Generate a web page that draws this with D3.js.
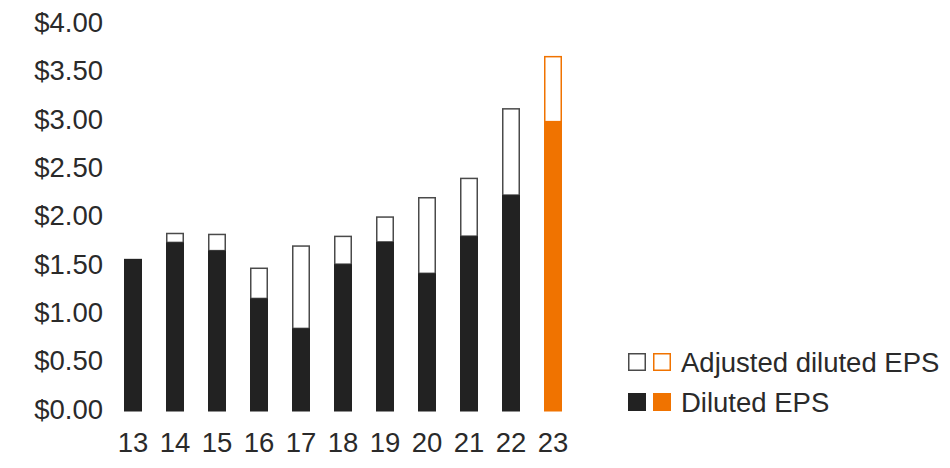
<!DOCTYPE html>
<html>
<head>
<meta charset="utf-8">
<script src="https://cdn.jsdelivr.net/npm/d3@7"></script>
<style>
  html, body { margin: 0; padding: 0; background: #fff; }
  svg text { font-family: "Liberation Sans", Arial, sans-serif; fill: #2a2a2a; }
</style>
</head>
<body>
<svg id="chart" width="950" height="468"></svg>
<script>
const years = ["13","14","15","16","17","18","19","20","21","22","23"];
const dilutedEPS = [1.58, 1.75, 1.665, 1.17, 0.86, 1.525, 1.755, 1.43, 1.815, 2.24, 3.00];
const adjustedEPS = [1.58, 1.85, 1.84, 1.49, 1.72, 1.82, 2.02, 2.22, 2.42, 3.14, 3.68];
const yTicks = [0, 0.5, 1.0, 1.5, 2.0, 2.5, 3.0, 3.5, 4.0];
const legendItems = ["Adjusted diluted EPS", "Diluted EPS"];

const DARK = "#222222", ORANGE = "#F07300", OUTLINE = "#4a4a4a";
const highlight = "23";

const svg = d3.select("#chart");
const x = d3.scaleBand().domain(years).range([112, 574]).paddingInner(24/42).paddingOuter(12/42);
const y = d3.scaleLinear().domain([0, 4]).range([411.5, 25]);

const yAxis = d3.axisLeft(y).tickValues(yTicks).tickFormat(d3.format("$.2f")).tickSize(0).tickPadding(0);
svg.append("g").attr("transform", "translate(103,-3)").call(yAxis)
  .call(g => g.select(".domain").remove())
  .call(g => g.selectAll("text").attr("font-size", 27.5).attr("fill", "#2a2a2a")
      .attr("dy", null).attr("dominant-baseline", "central"));

const xAxis = d3.axisBottom(x).tickSize(0).tickPadding(0);
svg.append("g").attr("transform", "translate(0,442.5)").call(xAxis)
  .call(g => g.select(".domain").remove())
  .call(g => g.selectAll("text").attr("font-size", 27.5).attr("fill", "#2a2a2a")
      .attr("dy", null).attr("dominant-baseline", "central"));

const data = years.map((yr, i) => ({ yr, d: dilutedEPS[i], a: adjustedEPS[i] }));

// adjusted (outlined) part
svg.append("g").selectAll("rect").data(data.filter(o => o.a > o.d)).join("rect")
  .attr("x", o => x(o.yr) + 0.75)
  .attr("width", x.bandwidth() - 1.5)
  .attr("y", o => y(o.a) + 0.75)
  .attr("height", o => y(o.d) - y(o.a) - 0.75)
  .attr("fill", "#fff")
  .attr("stroke", o => o.yr === highlight ? ORANGE : OUTLINE)
  .attr("stroke-width", 1.5);

// diluted (filled) part
svg.append("g").selectAll("rect").data(data).join("rect")
  .attr("x", o => x(o.yr))
  .attr("width", x.bandwidth())
  .attr("y", o => y(o.d))
  .attr("height", o => y(0) - y(o.d))
  .attr("fill", o => o.yr === highlight ? ORANGE : DARK);

// legend
const lg = svg.append("g").attr("transform", "translate(628,0)");
const rowsY = [362, 402];
legendItems.forEach((label, i) => {
  const cy = rowsY[i];
  const filled = i === 1;
  [DARK, ORANGE].forEach((c, j) => {
    const sx = j * 25;
    if (filled) {
      lg.append("rect").attr("x", sx).attr("y", cy - 9).attr("width", 18).attr("height", 18).attr("fill", c);
    } else {
      lg.append("rect").attr("x", sx + 0.75).attr("y", cy - 8.25).attr("width", 16.5).attr("height", 16.5)
        .attr("fill", "#fff").attr("stroke", c === DARK ? OUTLINE : ORANGE).attr("stroke-width", 1.5);
    }
  });
  lg.append("text").attr("x", 53).attr("y", cy).attr("dominant-baseline", "central")
    .attr("font-size", 27.5).text(label);
});
</script>
</body>
</html>
